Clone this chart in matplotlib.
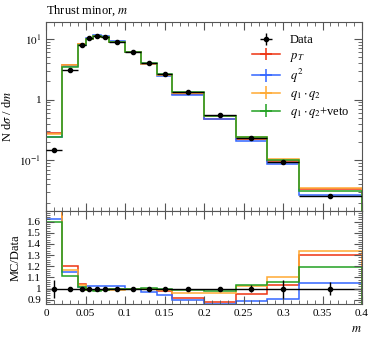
import numpy as np
import matplotlib
matplotlib.use("Agg")
import matplotlib.pyplot as plt
from matplotlib.ticker import FixedLocator, FuncFormatter, MultipleLocator

plt.rcParams['font.family'] = ['Liberation Serif', 'DejaVu Serif']
plt.rcParams['mathtext.fontset'] = 'stix'

# %% data
edges = [0, 0.02, 0.04, 0.05, 0.06, 0.07, 0.08, 0.10, 0.12, 0.14, 0.16, 0.20, 0.24, 0.28, 0.32, 0.40]
data = [0.15, 3.13, 7.9, 10.2, 11.3, 10.8, 9.0, 6.1, 3.95, 2.6, 1.33, 0.55, 0.232, 0.094, 0.0258]
data_relerr = [0.08, 0.01, 0.01, 0.01, 0.01, 0.01, 0.01, 0.01, 0.01, 0.01, 0.01, 0.01, 0.03, 0.08, 0.06]

ratio_pt = [1.90, 1.20, 1.04, 0.99, 0.99, 0.99, 0.995, 1.0, 0.995, 0.975, 0.92, 0.88, 0.955, 1.035, 1.30]
ratio_q2 = [1.625, 1.15, 1.01, 1.02, 1.02, 1.02, 1.02, 1.0, 0.972, 0.945, 0.90, 0.865, 0.89, 0.91, 1.05]
ratio_q1q2 = [1.78, 1.165, 1.035, 0.99, 0.99, 0.99, 0.99, 0.995, 0.995, 0.99, 0.96, 0.958, 1.025, 1.105, 1.335]
ratio_veto = [1.60, 1.11, 1.01, 0.985, 0.98, 0.985, 1.0, 1.0, 1.005, 1.0, 0.99, 0.978, 1.033, 1.06, 1.195]

labels = ['$p_T$', '$q^2$', r'$q_1 \cdot q_2$', r'$q_1 \cdot q_2$+veto']
colors = ['#EE3311', '#3366FF', '#FFAA33', '#22A022']

# %% plot
edges = np.array(edges)
data = np.array(data)
centers = 0.5 * (edges[1:] + edges[:-1])
halfw = 0.5 * (edges[1:] - edges[:-1])

fig = plt.figure(figsize=(3.74, 3.37), dpi=100)
ax = fig.add_axes([0.123, 0.375, 0.845, 0.560])
rax = fig.add_axes([0.123, 0.098, 0.845, 0.277], sharex=ax)

for r, lab, c in zip([ratio_pt, ratio_q2, ratio_q1q2, ratio_veto], labels, colors):
    mc = data * np.array(r)
    ax.stairs(mc, edges, color=c, lw=1.1)
    ax.errorbar([], [], xerr=1, yerr=1, color=c, lw=1.1, label=lab)
    rax.stairs(r, edges, color=c, lw=1.1)

ax.errorbar(centers, data, xerr=halfw, yerr=data * np.array(data_relerr),
            fmt='o', color='black', ms=3, lw=1, capsize=0, label='Data', zorder=5)
rax.axhline(1, color='black', lw=1, zorder=1)
rax.errorbar(centers, np.ones(len(data)), yerr=data_relerr, fmt='o', color='black',
             ms=3, lw=1, capsize=0, zorder=5)

ax.set_yscale('log')
ax.set_xlim(0, 0.4)
ax.set_ylim(10**-1.83, 10**1.28)
rax.set_ylim(0.862, 1.699)

def logfmt(v, pos):
    e = int(round(np.log10(v)))
    if e == 0:
        return '1'
    return '$10^{%d}$' % e

ax.yaxis.set_major_locator(FixedLocator([0.1, 1, 10]))
ax.yaxis.set_major_formatter(FuncFormatter(logfmt))
ax.xaxis.set_major_locator(MultipleLocator(0.05))
ax.xaxis.set_minor_locator(MultipleLocator(0.01))
rax.yaxis.set_major_locator(MultipleLocator(0.1))
rax.yaxis.set_minor_locator(MultipleLocator(0.02))
rax.yaxis.set_major_formatter(FuncFormatter(lambda v, p: '%g' % round(v, 2)))
rax.xaxis.set_major_formatter(FuncFormatter(lambda v, p: '%g' % round(v, 2)))
plt.setp(ax.get_xticklabels(), visible=False)

for a in (ax, rax):
    a.tick_params(which='both', direction='in', top=True, right=True, labelsize=8, colors='#555555',
                  labelcolor='black')
    a.tick_params(which='major', length=6)
    a.tick_params(which='minor', length=3)
    for s in a.spines.values():
        s.set_color('#555555')

ax.set_ylabel(r'N d$\sigma$ / d$m$', fontsize=9)
rax.set_ylabel('MC/Data', fontsize=9)
rax.set_xlabel('$m$', fontsize=9, loc='right')
ax.set_title('Thrust minor, $m$', fontsize=9, loc='left', pad=6)

h, l = ax.get_legend_handles_labels()
order = [4, 0, 1, 2, 3]
ax.legend([h[i] for i in order], [l[i] for i in order], loc='upper right', frameon=False,
          fontsize=9, handlelength=2.2, labelspacing=0.25, borderaxespad=0.6)

fig.savefig('out.png', dpi=100)
